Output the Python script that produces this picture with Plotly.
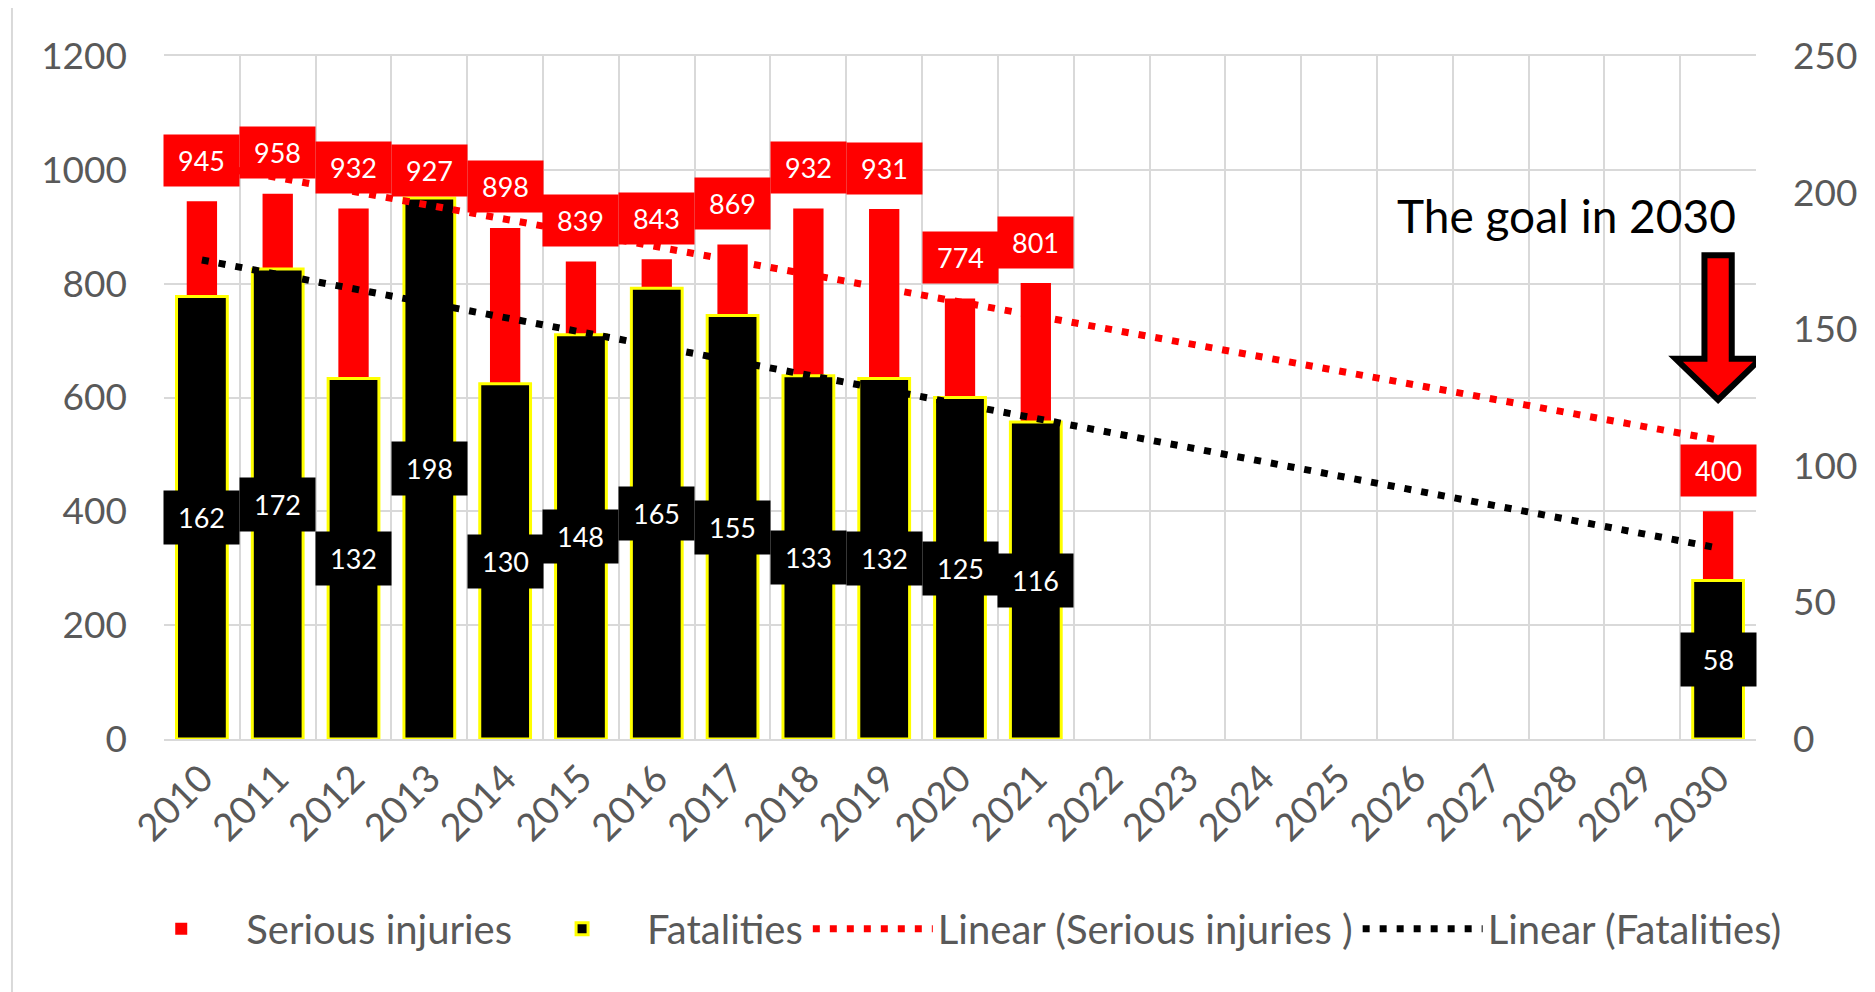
import numpy as np
import plotly.graph_objects as go

years = [str(y) for y in range(2010, 2031)]
serious = [945, 958, 932, 927, 898, 839, 843, 869, 932, 931, 774, 801,
           None, None, None, None, None, None, None, None, 400]
fatal = [162, 172, 132, 198, 130, 148, 165, 155, 133, 132, 125, 116,
         None, None, None, None, None, None, None, None, 58]

# excel style linear trendline (x = 1..21, blanks ignored)
def trend(vals):
    xs = [i + 1 for i, v in enumerate(vals) if v is not None]
    ys = [v for v in vals if v is not None]
    b, a = np.polyfit(xs, ys, 1)
    return [a + b * (i + 1) for i in range(len(vals))]

ser_trend = trend(serious)
fat_trend = trend(fatal)

FONT = "Lato"
GRAY = "#595959"
GRID = "#d9d9d9"

fig = go.Figure()
fig.add_trace(go.Bar(x=years, y=serious, name="Serious injuries", width=0.4,
                     marker=dict(color="#ff0000", line=dict(width=0)), yaxis="y"))
fig.add_trace(go.Bar(x=years, y=fatal, name="Fatalities", width=0.67,
                     marker=dict(color="black", line=dict(color="#ffff00", width=3)), yaxis="y2"))
fig.add_trace(go.Scatter(x=years, y=ser_trend, name="Linear (Serious injuries )", mode="lines",
                         line=dict(color="#ff0000", width=7, dash="7px,10px"), yaxis="y3"))
fig.add_trace(go.Scatter(x=years, y=fat_trend, name="Linear (Fatalities)", mode="lines",
                         line=dict(color="black", width=7, dash="7px,10px"), yaxis="y2"))

# data labels (category index used for x, the year strings look numeric)
ann = []
for i, v in enumerate(serious):
    if v is None:
        continue
    ann.append(dict(x=i, y=v, xref="x", yref="y", yshift=41, text=str(v), showarrow=False,
                    bgcolor="#ff0000", width=75, height=51, borderpad=0,
                    font=dict(family=FONT, size=27, color="white")))
for i, v in enumerate(fatal):
    if v is None:
        continue
    ann.append(dict(x=i, y=v / 2, xref="x", yref="y2", text=str(v), showarrow=False,
                    bgcolor="black", width=75, height=53, borderpad=0,
                    font=dict(family=FONT, size=27, color="white")))
ann.append(dict(x=0.881, y=0.767, xref="paper", yref="paper", xanchor="center", yanchor="middle",
                text="The goal in 2030", showarrow=False,
                font=dict(family=FONT, size=46, color="black")))

# block arrow over 2030 (category index 20)
arrow = "M19.82,850 L20.18,850 L20.18,668 L20.56,668 L20,596 L19.44,668 L19.82,668 Z"

fig.update_layout(
    width=1875, height=992,
    margin=dict(l=156, r=127, t=48, b=261),
    paper_bgcolor="white", plot_bgcolor="white",
    barmode="overlay",
    font=dict(family=FONT, color=GRAY),
    showlegend=True,
    legend=dict(orientation="h", x=-0.03, xanchor="left", y=-0.278, yanchor="middle",
                font=dict(family=FONT, size=40, color=GRAY), itemwidth=120,
                traceorder="normal"),
    xaxis=dict(type="category", range=[-0.5, 20.5], tickson="boundaries", showgrid=True,
               gridcolor=GRID, gridwidth=2, showline=True, linecolor=GRID, linewidth=2,
               mirror=True, tickangle=-45, ticks="", tickfont=dict(size=38, color=GRAY)),
    yaxis=dict(range=[0, 1200], dtick=200, showgrid=True, gridcolor=GRID, gridwidth=2,
               zeroline=False, showline=False, ticks="", ticklabelstandoff=36,
               tickfont=dict(size=37, color=GRAY)),
    yaxis2=dict(range=[0, 250], dtick=50, overlaying="y", side="right", showgrid=False,
                zeroline=False, ticks="", ticklabelstandoff=36,
                tickfont=dict(size=37, color=GRAY)),
    yaxis3=dict(range=[0, 1200], overlaying="y", visible=False),
    annotations=ann,
    shapes=[
        dict(type="path", path=arrow, xref="x", yref="y", fillcolor="#ff0000",
             line=dict(color="black", width=6)),
        dict(type="rect", xref="paper", yref="paper", x0=-0.0955, x1=1.08, y0=-0.39, y1=1.073,
             line=dict(color=GRID, width=2), layer="below"),
    ],
)

fig.write_html("out.html")
